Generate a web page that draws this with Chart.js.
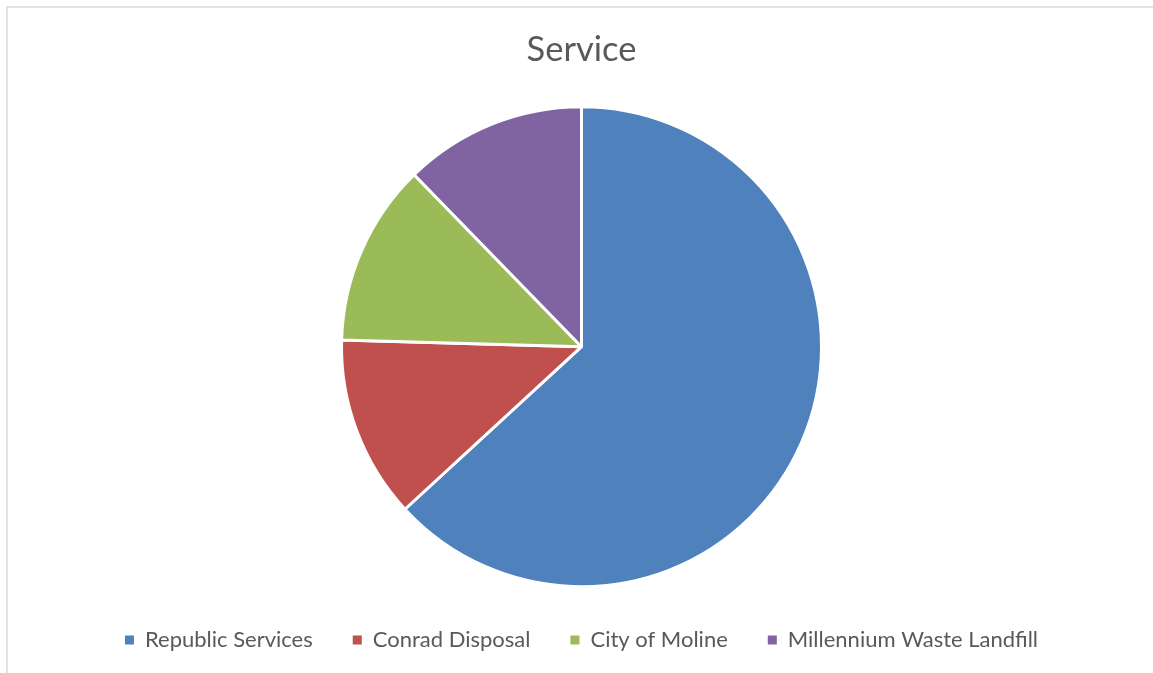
<!DOCTYPE html>
<html>
<head>
<meta charset="utf-8">
<script src="https://cdn.jsdelivr.net/npm/chart.js@4.4.0/dist/chart.umd.min.js"></script>
<style>
  html, body { margin: 0; padding: 0; background: #fff; overflow: hidden; }
  #frame { position: absolute; left: 6px; top: 6px; width: 1200px; height: 720px; border: 2px solid #e2e2e2; }
  #wrap { position: absolute; left: 0; top: 0; width: 1153px; height: 673px; }
</style>
</head>
<body>
<div id="frame"></div>
<div id="wrap"><canvas id="serviceChart"></canvas></div>
<script>
var labels = ['Republic Services', 'Conrad Disposal', 'City of Moline', 'Millennium Waste Landfill'];
var values = [36, 7, 7, 7];
var colors = ['#4F81BD', '#C0504D', '#9BBB59', '#8064A2'];

var serviceChart = new Chart(document.getElementById('serviceChart'), {
    type: 'pie',
    data: {
        labels: labels,
        datasets: [{
            data: values,
            backgroundColor: colors,
            borderColor: '#ffffff',
            borderWidth: 3,
            radius: 240
        }]
    },
    options: {
        responsive: true,
        maintainAspectRatio: false,
        animation: false,
        layout: {
            padding: { left: 10, right: 0, top: 0, bottom: 12 }
        },
        plugins: {
            title: {
                display: true,
                text: 'Service',
                color: '#595959',
                font: { family: 'Lato', size: 34.5, weight: 'normal' },
                padding: { top: 29, bottom: 34 }
            },
            legend: {
                position: 'bottom',
                labels: {
                    color: '#595959',
                    font: { family: 'Lato', size: 22 },
                    boxWidth: 9,
                    boxHeight: 9,
                    padding: 40,
                    generateLabels: function(chart) {
                        var items = Chart.PieController.overrides.plugins.legend.labels.generateLabels(chart);
                        items.forEach(function(it) {
                            it.lineWidth = 0;
                            it.strokeStyle = it.fillStyle;
                        });
                        return items;
                    }
                }
            },
            tooltip: { enabled: false }
        }
    }
});
</script>
</body>
</html>
